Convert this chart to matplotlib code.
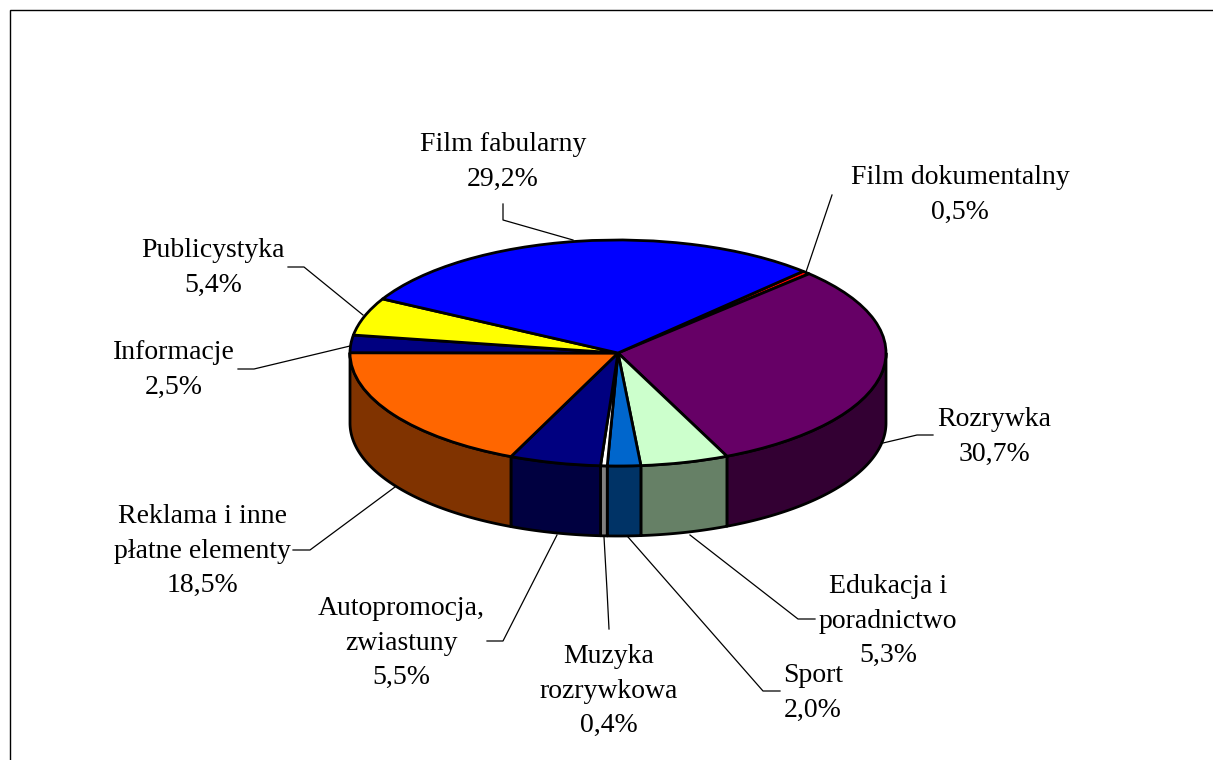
import numpy as np
import matplotlib
matplotlib.use("Agg")
import matplotlib.pyplot as plt
from matplotlib.patches import Wedge, Polygon
from matplotlib.transforms import Affine2D

categories = ["Film dokumentalny", "Rozrywka", "Edukacja i\nporadnictwo", "Sport",
              "Muzyka\nrozrywkowa", "Autopromocja,\nzwiastuny",
              "Reklama i inne\npłatne elementy", "Informacje", "Publicystyka",
              "Film fabularny"]
values = [0.5, 30.7, 5.3, 2.0, 0.4, 5.5, 18.5, 2.5, 5.4, 29.2]
top_colors = ["#FF0000", "#660066", "#CCFFCC", "#0066CC", "#FFFFFF",
              "#000080", "#FF6600", "#000080", "#FFFF00", "#0000FF"]
side_colors = ["#800000", "#330033", "#668066", "#003366", "#808080",
               "#000040", "#803300", "#000040", "#808000", "#000080"]

CX, CY, RX, RY, DEPTH = 618, 353, 268, 113, 70
START = 46.3
LW = 2.0

label_pos = [(960, 195), (994, 437), (888, 621), (813, 693), (609, 691),
             (401, 643), (202, 551), (174, 370), (213, 268), (503, 162)]
leaders = [[(832, 195), (806, 272)],
           [(933, 435), (917, 435), (883, 443)],
           [(815, 619), (798, 619), (690, 535)],
           [(780, 691), (763, 691), (628, 537)],
           [(609, 629), (607, 590), (604, 537)],
           [(487, 641), (503, 641), (557, 535)],
           [(293, 550), (310, 550), (395, 487)],
           [(238, 369), (254, 369), (350, 346)],
           [(288, 267), (304, 267), (363, 315)],
           [(503, 204), (503, 220), (573, 240)]]

fig = plt.figure(figsize=(12.13, 7.60), dpi=100)
ax = fig.add_axes([0, 0, 1, 1])
ax.set_xlim(0, 1213)
ax.set_ylim(760, 0)
ax.axis("off")

# frame (only the top and left edges fall inside the picture)
ax.plot([9.5, 9.5, 1213], [760, 10, 10], color="black", lw=1.0, zorder=1,
        solid_capstyle="butt", solid_joinstyle="miter")

fracs = np.array(values) / sum(values) * 360
ends = START - np.cumsum(fracs)
starts = ends + fracs
ellipse = Affine2D().scale(1, -RY / RX).translate(CX, CY) + ax.transData


def arc(a, b):
    t = np.radians(np.linspace(a, b, 120))
    return CX + RX * np.cos(t), CY - RY * np.sin(t)


# outer wall: only the front half of the ellipse is visible
for a, b, c in zip(starts, ends, side_colors):
    hi, lo = min(a, 0), max(b, -180)
    if hi <= lo:
        continue
    x, y = arc(hi, lo)
    pts = np.r_[np.c_[x, y], np.c_[x[::-1], y[::-1] + DEPTH]]
    ax.add_patch(Polygon(pts, closed=True, facecolor=c, edgecolor="black",
                         lw=LW, zorder=2, joinstyle="round"))

# top face
for a, b, c in zip(starts, ends, top_colors):
    ax.add_patch(Wedge((0, 0), RX, b, a, facecolor=c, edgecolor="black", lw=LW,
                       transform=ellipse, zorder=3, joinstyle="round"))

for pts in leaders:
    xs, ys = zip(*pts)
    ax.plot(xs, ys, color="black", lw=0.9, zorder=1.5)

for name, v, (x, y) in zip(categories, values, label_pos):
    label = f"{name}\n{v:.1f}%".replace(".", ",")
    ax.text(x, y, label, ha="center", va="center", ma="center",
            family="Liberation Serif", fontsize=20, linespacing=1.5,
            color="black", zorder=5)

fig.savefig("out.png", dpi=100, facecolor="white")
